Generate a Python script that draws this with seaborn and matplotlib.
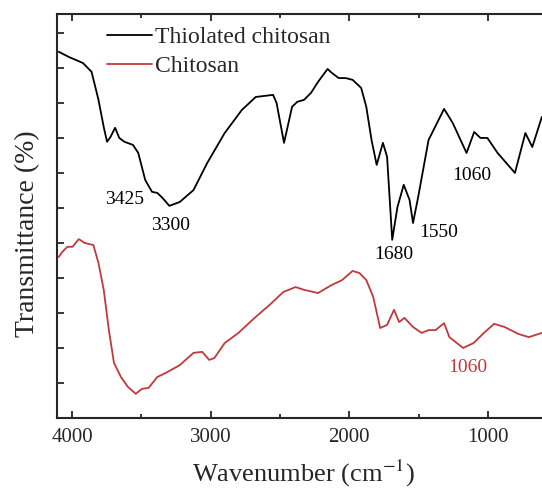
import numpy as np
import pandas as pd
import matplotlib
matplotlib.use("Agg")
import matplotlib.pyplot as plt
import seaborn as sns
from matplotlib.ticker import MultipleLocator, NullFormatter

# FTIR spectra (arbitrary transmittance units)
thiol_wn = [4095, 4021, 3921, 3859, 3809, 3771, 3747, 3722, 3689, 3659,
            3622, 3560, 3522, 3472, 3423, 3385, 3348, 3298, 3223, 3124,
            3024, 2899, 2775, 2675, 2550, 2525, 2471, 2413, 2376, 2326,
            2276, 2226, 2157, 2127, 2077, 2027, 1977, 1915, 1878, 1840,
            1803, 1758, 1728, 1691, 1653, 1608, 1566, 1541, 1504, 1429,
            1317, 1255, 1155, 1100, 1055, 1005, 931, 806, 731, 681, 612]
thiol_t = [104.6, 103.1, 101.4, 98.9, 90.9, 83.1, 78.9, 80.3, 82.9, 80.0,
           78.9, 78.0, 75.7, 68.0, 64.6, 64.3, 62.9, 60.6, 61.7, 65.1,
           72.9, 81.4, 88.0, 91.7, 92.3, 90.0, 78.6, 88.9, 90.3, 90.9,
           92.9, 96.0, 99.7, 98.6, 97.1, 97.1, 96.6, 94.3, 88.9, 79.4,
           72.3, 78.6, 74.6, 50.9, 60.3, 66.6, 62.3, 55.7, 63.1, 79.4,
           88.3, 84.3, 75.7, 81.7, 80.0, 80.0, 75.7, 70.0, 81.4, 77.4, 86.0]

chit_wn = [4095, 4071, 4033, 3996, 3951, 3909, 3846, 3809, 3771, 3734,
           3697, 3647, 3597, 3540, 3497, 3448, 3385, 3323, 3223, 3124,
           3061, 3011, 2974, 2899, 2800, 2675, 2575, 2476, 2388, 2326,
           2226, 2127, 2052, 1977, 1927, 1878, 1828, 1778, 1728, 1678,
           1641, 1603, 1541, 1479, 1429, 1379, 1317, 1279, 1180, 1105,
           1030, 956, 881, 781, 706, 612]
chit_t = [46.0, 47.4, 48.9, 48.9, 51.1, 50.0, 49.4, 44.3, 36.6, 25.1,
          15.7, 11.7, 8.9, 6.9, 8.3, 8.6, 11.7, 12.9, 15.1, 18.6,
          18.9, 16.6, 17.1, 21.4, 24.3, 28.9, 32.3, 36.0, 37.4, 36.6,
          35.7, 38.0, 39.4, 42.0, 41.4, 39.4, 34.6, 25.7, 26.6, 30.9,
          27.4, 28.6, 26.0, 24.3, 25.1, 25.1, 27.1, 23.1, 20.0, 21.4,
          24.3, 26.9, 26.0, 24.0, 23.1, 24.3]

# peak labels: text, wavenumber position, transmittance position, colour
peak_text = ["3425", "3300", "1680", "1550", "1060", "1060"]
peak_x = [3618, 3286, 1678, 1354, 1115, 1145]
peak_y = [62.3, 54.9, 46.6, 52.9, 69.4, 14.3]
peak_color = ["black", "black", "black", "black", "black", "#c0393b"]

sns.set_style("ticks")
plt.rcParams['font.family'] = ['Liberation Serif', 'DejaVu Serif']
plt.rcParams['mathtext.fontset'] = 'stix'

fig = plt.figure(figsize=(5.42, 4.90), dpi=100)
ax = fig.add_axes([57/542, 72/490, 485/542, 404/490])

sns.lineplot(x=thiol_wn, y=thiol_t, color='black', lw=1.3, sort=False,
             label='Thiolated chitosan', ax=ax)
sns.lineplot(x=chit_wn, y=chit_t, color='#c0393b', lw=1.3, sort=False,
             label='Chitosan', ax=ax)

for txt, x, y, c in zip(peak_text, peak_x, peak_y, peak_color):
    ax.text(x, y, txt, color=c, fontsize=14, ha='center', va='center')

ax.set_xlim(4108, 611)
ax.set_ylim(0, 115.4)

ax.xaxis.set_major_locator(MultipleLocator(1000))
ax.xaxis.set_minor_locator(MultipleLocator(500))
ax.yaxis.set_major_locator(MultipleLocator(10))
ax.yaxis.set_major_formatter(NullFormatter())
ax.tick_params(axis='x', which='major', direction='in', length=5, width=1.3,
               top=True, labelsize=15, pad=7)
ax.tick_params(axis='x', which='minor', direction='in', length=3, width=1.3,
               top=True)
ax.tick_params(axis='y', which='major', direction='in', length=5, width=1.3)

for side in ['left', 'bottom', 'top']:
    ax.spines[side].set_linewidth(1.5)
ax.spines['right'].set_visible(False)

ax.set_xlabel('Wavenumber (cm$^{-1}$)', fontsize=19)
ax.set_ylabel('Transmittance (%)', fontsize=20)
ax.xaxis.set_label_coords(0.507, -0.100)
ax.yaxis.set_label_coords(-0.035, 0.455)

ax.legend(loc='upper left', bbox_to_anchor=(0.103, 0.968), frameon=False,
          fontsize=17, handlelength=1.9, handletextpad=0.13,
          labelspacing=0.3, borderpad=0, borderaxespad=0)

plt.savefig("out.png", dpi=100)
plt.close()
